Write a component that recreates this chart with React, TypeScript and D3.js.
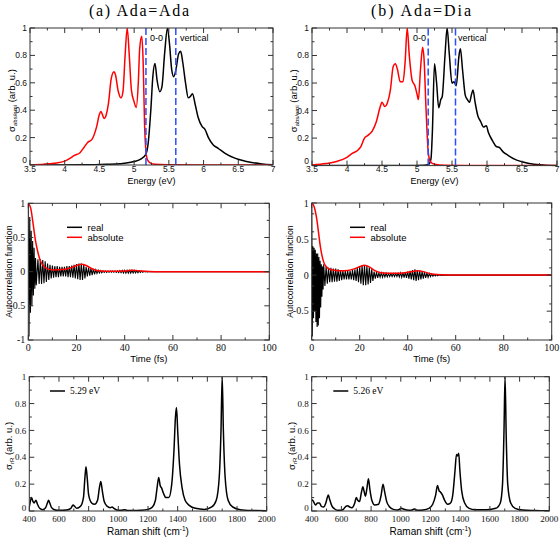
import React from 'react';
import * as d3 from 'd3';

type Pt = [number, number];

// ---------- Top: absorption / emission spectra ----------
const emiAdaAda: Pt[] = [
  [3.5, 0.002], [3.7, 0.006], [3.85, 0.013], [4.0, 0.028], [4.08, 0.05], [4.14, 0.07], [4.22, 0.09],
  [4.28, 0.13], [4.33, 0.165], [4.39, 0.185], [4.46, 0.28], [4.5, 0.37], [4.52, 0.39], [4.57, 0.34],
  [4.6, 0.37], [4.63, 0.45], [4.67, 0.63], [4.71, 0.68], [4.73, 0.66], [4.77, 0.54], [4.81, 0.49],
  [4.84, 0.54], [4.87, 0.8], [4.9, 1.0], [4.93, 0.8], [4.96, 0.55], [5.0, 0.46], [5.03, 0.42],
  [5.06, 0.6], [5.08, 0.85], [5.11, 0.94], [5.13, 0.75], [5.15, 0.3], [5.17, 0.1], [5.19, 0.04],
  [5.23, 0.015], [5.3, 0.005], [5.5, 0.002], [6.0, 0.0], [7.0, 0.0],
];
const absAdaAda: Pt[] = [
  [3.5, 0.0], [4.3, 0.001], [4.6, 0.005], [4.8, 0.01], [5.0, 0.025], [5.1, 0.045], [5.17, 0.08],
  [5.2, 0.15], [5.24, 0.4], [5.27, 0.65], [5.3, 0.74], [5.33, 0.62], [5.37, 0.535], [5.4, 0.57],
  [5.44, 0.82], [5.48, 1.0], [5.51, 0.88], [5.54, 0.7], [5.57, 0.645], [5.6, 0.69], [5.64, 0.81],
  [5.67, 0.83], [5.7, 0.75], [5.74, 0.6], [5.78, 0.49], [5.81, 0.5], [5.84, 0.52], [5.88, 0.44],
  [5.92, 0.35], [5.98, 0.28], [6.02, 0.26], [6.07, 0.2], [6.14, 0.146], [6.21, 0.122], [6.31, 0.085],
  [6.45, 0.05], [6.6, 0.028], [6.84, 0.008], [7.0, 0.002],
];
const emiAdaDia: Pt[] = [
  [3.5, 0.005], [3.7, 0.015], [3.85, 0.03], [4.0, 0.06], [4.08, 0.09], [4.15, 0.11], [4.2, 0.14],
  [4.25, 0.2], [4.3, 0.22], [4.36, 0.25], [4.42, 0.32], [4.47, 0.42], [4.5, 0.46], [4.54, 0.43],
  [4.58, 0.46], [4.62, 0.55], [4.66, 0.72], [4.69, 0.74], [4.72, 0.7], [4.76, 0.61], [4.8, 0.61],
  [4.83, 0.75], [4.86, 1.0], [4.89, 0.8], [4.93, 0.62], [4.97, 0.58], [5.0, 0.52], [5.02, 0.48],
  [5.05, 0.7], [5.08, 0.86], [5.1, 0.78], [5.13, 0.4], [5.16, 0.1], [5.19, 0.03], [5.25, 0.01],
  [5.4, 0.003], [6.0, 0.0], [7.0, 0.0],
];
const absAdaDia: Pt[] = [
  [3.5, 0.0], [4.8, 0.001], [5.1, 0.003], [5.17, 0.01], [5.2, 0.05], [5.22, 0.25], [5.25, 0.74],
  [5.28, 0.6], [5.31, 0.42], [5.34, 0.48], [5.36, 0.5], [5.4, 0.8], [5.43, 1.0], [5.46, 0.82],
  [5.5, 0.6], [5.53, 0.61], [5.56, 0.58], [5.6, 0.8], [5.62, 0.85], [5.65, 0.7], [5.69, 0.51],
  [5.72, 0.48], [5.75, 0.46], [5.78, 0.52], [5.8, 0.55], [5.83, 0.46], [5.87, 0.36], [5.91, 0.32],
  [5.95, 0.28], [5.99, 0.29], [6.02, 0.24], [6.08, 0.18], [6.13, 0.14], [6.18, 0.13], [6.23, 0.1],
  [6.3, 0.075], [6.4, 0.045], [6.5, 0.028], [6.6, 0.015], [6.8, 0.005], [7.0, 0.001],
];
const zeroZeroEnergy = [5.17, 5.16];
const verticalEnergy = [5.6, 5.55];
const energyTicks = [3.5, 4, 4.5, 5, 5.5, 6, 6.5, 7];
const sigmaTicks = [0, 0.2, 0.4, 0.6, 0.8, 1];

// ---------- Middle: autocorrelation ----------
const absCorrAdaAda: Pt[] = [
  [0, 1.0], [1, 0.93], [2, 0.7], [3, 0.45], [4, 0.28], [5, 0.16], [6, 0.1], [7, 0.06], [8, 0.04],
  [10, 0.025], [14, 0.03], [17, 0.05], [20, 0.09], [22, 0.11], [24, 0.09], [26, 0.05], [28, 0.02],
  [30, 0.01], [35, 0.005], [40, 0.01], [43, 0.02], [45, 0.015], [50, 0.003], [55, 0.0], [100, 0.0],
];
const absCorrAdaDia: Pt[] = [
  [0, 1.0], [1, 0.95], [2, 0.8], [3, 0.55], [3.5, 0.42], [4, 0.32], [5, 0.18], [6, 0.12], [7, 0.09],
  [8, 0.075], [10, 0.065], [12, 0.06], [15, 0.065], [18, 0.09], [20, 0.115], [22, 0.135], [24, 0.115],
  [26, 0.07], [28, 0.04], [30, 0.03], [35, 0.025], [38, 0.03], [41, 0.045], [44, 0.06], [47, 0.045],
  [50, 0.015], [55, 0.005], [60, 0.002], [100, 0.0],
];
// real part: first extrema listed explicitly, then band amplitude per fs
const realEarlyAdaAda: Pt[] = [
  [0, 1.0], [0.3, -0.95], [0.6, 0.8], [0.9, -0.6], [1.2, 0.6], [1.5, -0.5], [1.8, 0.45], [2.1, -0.35],
  [2.4, 0.35], [2.7, -0.25], [3.0, 0.2], [3.3, -0.2],
];
const realBandTimesAdaAda = d3.range(4, 51, 1);
const realBandAmpAdaAda = [
  0.18, 0.18, 0.17, 0.15, 0.12, 0.1, 0.09, 0.08, 0.08, 0.07, 0.07, 0.07, 0.08, 0.08, 0.09, 0.1, 0.11,
  0.12, 0.12, 0.1, 0.07, 0.06, 0.05, 0.04, 0.025, 0.02, 0.015, 0.01, 0.01, 0.008, 0.008, 0.008, 0.01,
  0.012, 0.015, 0.018, 0.02, 0.02, 0.02, 0.02, 0.018, 0.015, 0.01, 0.008, 0.005, 0.003, 0.002,
];
const realEarlyAdaDia: Pt[] = [
  [0, 1.0], [0.25, -0.85], [0.5, 0.4], [0.75, -0.6], [1.0, 0.38], [1.25, -0.5], [1.5, 0.35],
  [1.75, -0.65], [2.0, 0.3], [2.25, -0.72], [2.5, 0.3], [2.75, -0.7], [3.0, 0.25], [3.25, -0.6],
  [3.5, 0.2], [3.75, -0.45], [4.0, 0.15], [4.25, -0.3], [4.5, 0.12], [4.75, -0.2],
];
const realBandTimesAdaDia = d3.range(5, 56, 1);
const realBandAmpAdaDia = [
  0.15, 0.12, 0.1, 0.1, 0.09, 0.09, 0.08, 0.07, 0.06, 0.06, 0.06, 0.06, 0.07, 0.08, 0.1, 0.12, 0.14,
  0.14, 0.13, 0.11, 0.08, 0.05, 0.04, 0.03, 0.03, 0.025, 0.025, 0.02, 0.02, 0.02, 0.02, 0.025, 0.03,
  0.035, 0.04, 0.05, 0.06, 0.07, 0.08, 0.07, 0.06, 0.05, 0.04, 0.03, 0.02, 0.015, 0.01, 0.008, 0.005,
  0.003, 0.002,
];
const timeTicks = [0, 20, 40, 60, 80, 100];
const corrTicksL = [-1, -0.5, 0, 0.5, 1];
const corrTicksR = [-0.5, 0, 0.5, 1];

// ---------- Bottom: resonance Raman ----------
const ramanAdaAda: Pt[] = [
  [400, 0.03], [405, 0.06], [415, 0.1], [425, 0.07], [432, 0.06], [445, 0.08], [455, 0.05], [470, 0.02],
  [490, 0.01], [510, 0.025], [522, 0.06], [530, 0.08], [538, 0.06], [550, 0.025], [570, 0.01], [600, 0.005],
  [650, 0.008], [680, 0.02], [695, 0.045], [705, 0.035], [720, 0.02], [745, 0.035], [765, 0.1], [775, 0.25],
  [782, 0.33], [790, 0.25], [800, 0.12], [820, 0.06], [840, 0.05], [860, 0.08], [872, 0.17], [882, 0.22],
  [892, 0.15], [905, 0.07], [925, 0.035], [945, 0.025], [958, 0.03], [970, 0.02], [990, 0.008], [1020, 0.005],
  [1040, 0.01], [1060, 0.004], [1100, 0.003], [1150, 0.005], [1200, 0.012], [1230, 0.03], [1250, 0.08],
  [1262, 0.18], [1272, 0.25], [1282, 0.19], [1292, 0.17], [1305, 0.13], [1320, 0.1], [1340, 0.1],
  [1360, 0.2], [1375, 0.45], [1385, 0.7], [1392, 0.77], [1400, 0.6], [1412, 0.35], [1430, 0.17],
  [1450, 0.08], [1480, 0.04], [1520, 0.02], [1580, 0.012], [1630, 0.03], [1660, 0.08], [1680, 0.25],
  [1692, 0.6], [1700, 1.0], [1708, 0.6], [1720, 0.25], [1740, 0.08], [1770, 0.03], [1820, 0.01],
  [1900, 0.004], [2000, 0.002],
];
const ramanAdaDia: Pt[] = [
  [400, 0.085], [410, 0.075], [425, 0.045], [440, 0.06], [452, 0.06], [465, 0.035], [480, 0.03],
  [495, 0.06], [505, 0.1], [512, 0.12], [520, 0.09], [535, 0.04], [555, 0.015], [580, 0.005], [610, 0.01],
  [630, 0.035], [642, 0.04], [655, 0.03], [670, 0.025], [690, 0.06], [700, 0.1], [710, 0.08], [722, 0.07],
  [735, 0.14], [745, 0.18], [752, 0.15], [762, 0.11], [772, 0.17], [782, 0.24], [792, 0.16], [805, 0.08],
  [825, 0.045], [850, 0.05], [868, 0.12], [880, 0.2], [890, 0.15], [905, 0.07], [925, 0.03], [950, 0.012],
  [980, 0.008], [1005, 0.02], [1015, 0.015], [1040, 0.008], [1070, 0.006], [1090, 0.015], [1110, 0.006],
  [1150, 0.008], [1190, 0.02], [1215, 0.05], [1235, 0.12], [1247, 0.19], [1258, 0.15], [1268, 0.14],
  [1280, 0.12], [1295, 0.08], [1315, 0.05], [1335, 0.06], [1350, 0.12], [1365, 0.3], [1375, 0.42],
  [1382, 0.41], [1390, 0.43], [1398, 0.3], [1410, 0.15], [1430, 0.06], [1460, 0.02], [1500, 0.01],
  [1580, 0.01], [1640, 0.02], [1670, 0.06], [1685, 0.2], [1695, 0.6], [1702, 1.0], [1710, 0.55],
  [1720, 0.2], [1740, 0.06], [1770, 0.02], [1820, 0.007], [1900, 0.003], [2000, 0.001],
];
const ramanExcitation = ['5.29 eV', '5.26 eV'];
const ramanTicks = [400, 600, 800, 1000, 1200, 1400, 1600, 1800, 2000];
const panelTitles = ['(a) Ada=Ada', '(b) Ada=Dia'];

// ---------- styling ----------
const SANS = "'Liberation Sans', Arial, Helvetica, sans-serif";
const SERIF = "'Liberation Serif', 'Times New Roman', Times, serif";
const BLUE = '#2a4dff';
const RED = '#ff0000';

type Box = { l: number; r: number; t: number; b: number };
type Sc = d3.ScaleLinear<number, number>;

function minorBetween(ticks: number[], dom: number[], step: number) {
  const out: number[] = [];
  const lo = Math.min(dom[0], dom[1]);
  const hi = Math.max(dom[0], dom[1]);
  for (let v = lo; v <= hi + 1e-9; v += step) {
    const r = Math.round(v * 1e6) / 1e6;
    if (!ticks.some((t) => Math.abs(t - r) < 1e-6)) out.push(r);
  }
  return out;
}

function Panel(props: {
  id: string;
  box: Box;
  xDom: number[];
  yDom: number[];
  xTicks: number[];
  yTicks: number[];
  xMinorStep: number;
  yMinorStep: number;
  font: string;
  size: number;
  xLabelY: number;
  yLabelDy: number;
  children: (x: Sc, y: Sc) => React.ReactNode;
}) {
  const { id, box, xDom, yDom, xTicks, yTicks, font, size } = props;
  const x = d3.scaleLinear().domain(xDom).range([box.l, box.r]);
  const y = d3.scaleLinear().domain(yDom).range([box.b, box.t]);
  const xm = minorBetween(xTicks, xDom, props.xMinorStep);
  const ym = minorBetween(yTicks, yDom, props.yMinorStep);
  const M = 5, m = 2.5;
  const col = '#333';
  return (
    <g>
      <defs>
        <clipPath id={id}>
          <rect x={box.l} y={box.t} width={box.r - box.l} height={box.b - box.t} />
        </clipPath>
      </defs>
      <g clipPath={`url(#${id})`}>{props.children(x, y)}</g>
      <rect x={box.l} y={box.t} width={box.r - box.l} height={box.b - box.t} fill="none" stroke={col} strokeWidth={1} />
      {xTicks.map((v) => (
        <g key={'xt' + v}>
          <line x1={x(v)} x2={x(v)} y1={box.b} y2={box.b - M} stroke={col} />
          <line x1={x(v)} x2={x(v)} y1={box.t} y2={box.t + M} stroke={col} />
          <text x={x(v)} y={props.xLabelY} textAnchor="middle" fontFamily={font} fontSize={size} fill="#111">
            {String(v)}
          </text>
        </g>
      ))}
      {xm.map((v) => (
        <g key={'xm' + v}>
          <line x1={x(v)} x2={x(v)} y1={box.b} y2={box.b - m} stroke={col} />
          <line x1={x(v)} x2={x(v)} y1={box.t} y2={box.t + m} stroke={col} />
        </g>
      ))}
      {yTicks.map((v) => (
        <g key={'yt' + v}>
          <line x1={box.l} x2={box.l + M} y1={y(v)} y2={y(v)} stroke={col} />
          <line x1={box.r} x2={box.r - M} y1={y(v)} y2={y(v)} stroke={col} />
          <text x={box.l - 3} y={y(v) + size * 0.35 + (v === yTicks[0] ? props.yLabelDy : 0)} textAnchor="end" fontFamily={font} fontSize={size} fill="#111">
            {String(v)}
          </text>
        </g>
      ))}
      {ym.map((v) => (
        <g key={'ym' + v}>
          <line x1={box.l} x2={box.l + m} y1={y(v)} y2={y(v)} stroke={col} />
          <line x1={box.r} x2={box.r - m} y1={y(v)} y2={y(v)} stroke={col} />
        </g>
      ))}
    </g>
  );
}

function realTrace(early: Pt[], times: number[], amps: number[]): Pt[] {
  const pts: Pt[] = [...early];
  times.forEach((t, i) => {
    pts.push([t, amps[i]]);
    pts.push([t + 0.5, -amps[i]]);
  });
  pts.push([times[times.length - 1] + 1, 0]);
  pts.push([100, 0]);
  return pts;
}

const smooth = (x: Sc, y: Sc) =>
  d3.line<Pt>().x((d) => x(d[0])).y((d) => y(d[1])).curve(d3.curveMonotoneX);
const straight = (x: Sc, y: Sc) => d3.line<Pt>().x((d) => x(d[0])).y((d) => y(d[1]));

export default function App() {
  const cols = [
    {
      top: { l: 30, r: 273, t: 28, b: 165 },
      mid: { l: 28.3, r: 269.3, t: 203.3, b: 340 },
      bot: { l: 29.3, r: 266.7, t: 376.7, b: 511 },
      emi: emiAdaAda, abs: absAdaAda,
      corrAbs: absCorrAdaAda,
      real: realTrace(realEarlyAdaAda, realBandTimesAdaAda, realBandAmpAdaAda),
      corrDom: [-1, 1], corrTicks: corrTicksL,
      raman: ramanAdaAda,
      titleX: 139, yTitleX: 15, yTitleMidX: 12, yTitleBotX: 12,
      label00: 150, labelVert: 180,
      legMid: 67, legBot: 50,
    },
    {
      top: { l: 312, r: 557, t: 28, b: 165.6 },
      mid: { l: 311.7, r: 551.7, t: 203, b: 340 },
      bot: { l: 311.7, r: 549.3, t: 376.7, b: 511 },
      emi: emiAdaDia, abs: absAdaDia,
      corrAbs: absCorrAdaDia,
      real: realTrace(realEarlyAdaDia, realBandTimesAdaDia, realBandAmpAdaDia),
      corrDom: [-0.9, 1], corrTicks: corrTicksR,
      raman: ramanAdaDia,
      titleX: 421, yTitleX: 297, yTitleMidX: 293, yTitleBotX: 295,
      label00: 413, labelVert: 458,
      legMid: 350, legBot: 333.3,
    },
  ];

  return (
    <svg width={560} height={538} style={{ position: 'absolute', left: 0, top: 0, background: '#fff' }}>
      <rect width={560} height={538} fill="#fff" />
      {cols.map((c, i) => {
        const topMidX = (c.top.l + c.top.r) / 2;
        const topMidY = (c.top.t + c.top.b) / 2;
        const midMidX = (c.mid.l + c.mid.r) / 2;
        const midMidY = (c.mid.t + c.mid.b) / 2;
        const botMidX = (c.bot.l + c.bot.r) / 2;
        const botMidY = (c.bot.t + c.bot.b) / 2;
        return (
          <g key={i}>
            <text x={c.titleX} y={16} textAnchor="middle" fontFamily={SERIF} fontSize={16} textLength={100} lengthAdjust="spacing" fill="#000">
              {panelTitles[i]}
            </text>

            {/* top: spectra */}
            <Panel id={'clipTop' + i} box={c.top} xDom={[3.5, 7]} yDom={[0, 1]} xTicks={energyTicks} yTicks={sigmaTicks}
              xMinorStep={0.25} yMinorStep={0.1} font={SANS} size={8.5} xLabelY={172.3} yLabelDy={-5}>
              {(x, y) => (
                <g fill="none">
                  <path d={smooth(x, y)(c.abs) || ''} stroke="#000" strokeWidth={1.5} />
                  <path d={smooth(x, y)(c.emi) || ''} stroke={RED} strokeWidth={1.5} />
                  {[zeroZeroEnergy[i], verticalEnergy[i]].map((e) => (
                    <line key={e} x1={x(e)} x2={x(e)} y1={c.top.b} y2={c.top.t} stroke={BLUE} strokeWidth={1.5} strokeDasharray="7,3" />
                  ))}
                </g>
              )}
            </Panel>
            <text x={c.label00} y={41} fontFamily={SANS} fontSize={9} fill="#000">0-0</text>
            <text x={c.labelVert} y={41} fontFamily={SANS} fontSize={9} fill="#000">vertical</text>
            <text x={topMidX} y={183.5} textAnchor="middle" fontFamily={SANS} fontSize={9} fill="#000">Energy (eV)</text>
            <text transform={`translate(${c.yTitleX},${topMidY + 4}) rotate(-90)`} textAnchor="middle" fontFamily={SANS} fontSize={9.5} fill="#000">
              σ<tspan fontSize={6} dy={2}>abs/emi</tspan><tspan dy={-2}> (arb. u.)</tspan>
            </text>

            {/* middle: autocorrelation */}
            <Panel id={'clipMid' + i} box={c.mid} xDom={[0, 100]} yDom={c.corrDom} xTicks={timeTicks} yTicks={c.corrTicks}
              xMinorStep={10} yMinorStep={0.25} font={SERIF} size={10} xLabelY={350.5} yLabelDy={-1}>
              {(x, y) => (
                <g fill="none">
                  <path d={straight(x, y)(c.real) || ''} stroke="#000" strokeWidth={1.1} />
                  <path d={smooth(x, y)(c.corrAbs) || ''} stroke={RED} strokeWidth={1.5} />
                </g>
              )}
            </Panel>
            <line x1={c.legMid} x2={c.legMid + 15} y1={227.3} y2={227.3} stroke="#000" strokeWidth={1.5} />
            <text x={c.legMid + 20.5} y={230.7} fontFamily={SANS} fontSize={9.5} fill="#000">real</text>
            <line x1={c.legMid} x2={c.legMid + 15} y1={237.3} y2={237.3} stroke={RED} strokeWidth={1.5} />
            <text x={c.legMid + 20.5} y={240.7} fontFamily={SANS} fontSize={9.5} fill="#000">absolute</text>
            <text x={midMidX} y={362} textAnchor="middle" fontFamily={SANS} fontSize={9.5} fill="#000">Time (fs)</text>
            <text transform={`translate(${c.yTitleMidX},${midMidY}) rotate(-90)`} textAnchor="middle" fontFamily={SANS} fontSize={8.8} fill="#000">
              Autocorrelation function
            </text>

            {/* bottom: Raman */}
            <Panel id={'clipBot' + i} box={c.bot} xDom={[400, 2000]} yDom={[0, 1]} xTicks={ramanTicks} yTicks={sigmaTicks}
              xMinorStep={100} yMinorStep={0.1} font={SERIF} size={9} xLabelY={521.5} yLabelDy={-3}>
              {(x, y) => (
                <path d={smooth(x, y)(c.raman) || ''} fill="none" stroke="#000" strokeWidth={1.5} />
              )}
            </Panel>
            <line x1={c.legBot} x2={c.legBot + 15} y1={391} y2={391} stroke="#000" strokeWidth={1.5} />
            <text x={c.legBot + 20} y={394} fontFamily={SERIF} fontSize={9.5} fill="#000">{ramanExcitation[i]}</text>
            <text x={botMidX} y={535} textAnchor="middle" fontFamily={SANS} fontSize={10} fill="#000">
              Raman shift (cm<tspan fontSize={6.5} dy={-4}>-1</tspan><tspan dy={4}>)</tspan>
            </text>
            <text transform={`translate(${c.yTitleBotX},${botMidY + 2}) rotate(-90)`} textAnchor="middle" fontFamily={SANS} fontSize={9.5} fill="#000">
              σ<tspan fontSize={6} dy={2}>rR</tspan><tspan dy={-2}> (arb. u.)</tspan>
            </text>
          </g>
        );
      })}
    </svg>
  );
}
